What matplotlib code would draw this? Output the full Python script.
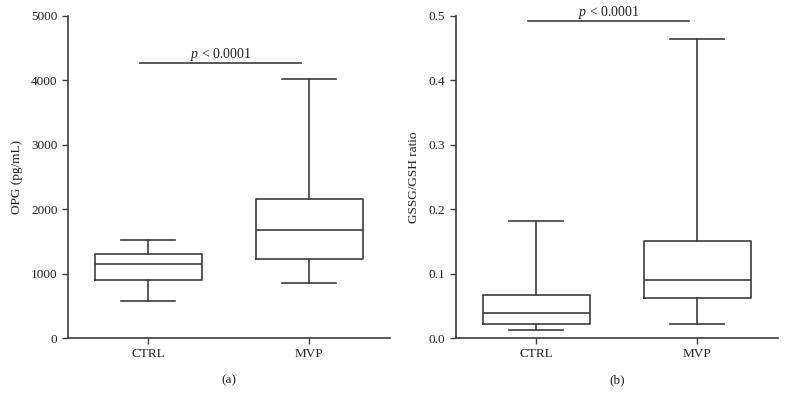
import matplotlib
matplotlib.use("Agg")
import matplotlib.pyplot as plt

plt.rcParams['font.family'] = ['Liberation Serif', 'DejaVu Serif']
plt.rcParams['mathtext.fontset'] = 'custom'
plt.rcParams['mathtext.it'] = 'Liberation Serif:italic'
plt.rcParams['mathtext.rm'] = 'Liberation Serif'

groups = ["CTRL", "MVP"]

# OPG (pg/mL): whisker low, Q1, median, Q3, whisker high
opg_low = [580, 860]
opg_q1 = [900, 1227]
opg_med = [1154, 1677]
opg_q3 = [1304, 2163]
opg_high = [1522, 4027]

# GSSG/GSH ratio
gs_low = [0.013, 0.021]
gs_q1 = [0.022, 0.062]
gs_med = [0.039, 0.090]
gs_q3 = [0.067, 0.150]
gs_high = [0.181, 0.465]

opg_ticks = [0, 1000, 2000, 3000, 4000, 5000]
gs_ticks = [0.0, 0.1, 0.2, 0.3, 0.4, 0.5]

col = "#3c3c3c"


def make_stats(low, q1, med, q3, high):
    stats = []
    for i in range(len(groups)):
        stats.append(dict(whislo=low[i], q1=q1[i], med=med[i], q3=q3[i],
                          whishi=high[i], fliers=[], label=groups[i]))
    return stats


def panel(ax, stats, ticks, fmt, ylabel, pval_y, pval_txt_y, tag):
    lp = dict(color=col, linewidth=1.2)
    ax.bxp(stats, positions=[1, 2], widths=0.665, showfliers=False,
           boxprops=lp, whiskerprops=lp, capprops=lp, medianprops=lp,
           capwidths=0.335)
    ax.set_xlim(0.5, 2.5)
    ax.set_ylim(ticks[0], ticks[-1])
    ax.set_yticks(ticks)
    ax.set_yticklabels([fmt.format(t) for t in ticks])
    ax.set_xticks([1, 2])
    ax.set_xticklabels(groups)
    for s in ["top", "right"]:
        ax.spines[s].set_visible(False)
    for s in ["left", "bottom"]:
        ax.spines[s].set_color(col)
        ax.spines[s].set_linewidth(1.2)
    ax.tick_params(direction="out", length=4, width=1.0, color=col,
                   labelsize=9.5, labelcolor="#222222")
    ax.set_ylabel(ylabel, fontsize=9.5, color="#222222", labelpad=6)
    ax.plot([0.95, 1.95], [pval_y, pval_y], color=col, linewidth=1.2,
            clip_on=False)
    ax.text(1.45, pval_txt_y, r"$p$ < 0.0001", ha="center", va="baseline",
            fontsize=10, color="#222222")
    ax.text(0.5, -0.112, tag, transform=ax.transAxes, ha="center", va="top",
            fontsize=9.5, color="#222222")


fig = plt.figure(figsize=(7.86, 4.05), dpi=100)
ax1 = fig.add_axes([0.0865, 0.1654, 0.4095, 0.7951])
ax2 = fig.add_axes([0.5798, 0.1654, 0.4100, 0.7951])

panel(ax1, make_stats(opg_low, opg_q1, opg_med, opg_q3, opg_high),
      opg_ticks, "{:.0f}", "OPG (pg/mL)", 4266, 4343, "(a)")
panel(ax2, make_stats(gs_low, gs_q1, gs_med, gs_q3, gs_high),
      gs_ticks, "{:.1f}", "GSSG/GSH ratio", 0.4927, 0.5, "(b)")

fig.savefig("out.png", dpi=100)
